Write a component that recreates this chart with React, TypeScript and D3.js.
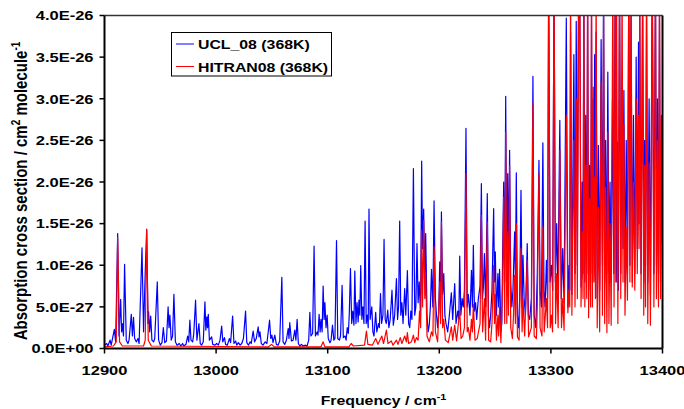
import React from "react";
import * as d3 from "d3";

// values in units of 1e-27 cm^2 molecule^-1
const UNIT = 1e-27;

const uclPoints: [number, number][] = [
  [12900, 0.4], [12902, 0.6], [12903, 0.3], [12905, 1.0], [12906, 0.4], [12908.8, 2.3], [12910, 0.8],
  [12911.8, 13.8], [12913, 1.5], [12914.5, 5.9], [12915.3, 2.0], [12916, 3.0], [12917, 1.5], [12918, 10.1],
  [12919.5, 1.0], [12921, 0.6], [12922, 1.0], [12924, 4.1], [12925, 1.5], [12926, 3.75], [12927, 1.2],
  [12928.5, 0.8], [12930, 1.2], [12931, 0.6], [12933.6, 12.1], [12935, 2.0], [12936.5, 9.2], [12937.8, 14.3],
  [12939, 3.0], [12939.5, 4.4], [12940.5, 2.0], [12941.4, 3.9], [12942.5, 1.0], [12944, 0.8], [12945, 1.2],
  [12947.3, 8.0], [12948.5, 1.0], [12950, 0.4], [12951.5, 0.7], [12952.7, 2.5], [12954, 0.7], [12955.5, 0.9],
  [12957, 5.0], [12957.8, 2.5], [12958.6, 4.0], [12959.8, 1.0], [12961, 1.5], [12962.2, 6.5], [12963.5, 0.8],
  [12965, 0.4], [12967, 0.6], [12968.5, 0.3], [12970, 0.6], [12971, 0.3], [12973, 0.5], [12974.5, 1.5],
  [12975.5, 0.8], [12976.5, 3.4], [12977.5, 1.0], [12979, 0.8], [12980, 1.8], [12981.6, 5.8], [12982.8, 1.0],
  [12984.6, 3.0], [12985.8, 0.6], [12987, 0.4], [12988.5, 0.8], [12990, 5.6], [12990.8, 2.2], [12991.7, 3.8],
  [12992.3, 2.5], [12993, 4.1], [12994, 1.0], [12996, 1.4], [12997, 0.5], [12999, 0.4], [13000.5, 0.6],
  [13002, 0.4], [13003.5, 1.0], [13005, 2.7], [13006, 0.8], [13007.5, 1.3], [13008.5, 0.5], [13010, 0.4],
  [13012, 1.2], [13013, 0.7], [13014.8, 3.9], [13016, 0.6], [13017.5, 0.9], [13018.5, 0.4], [13020, 0.7],
  [13021.5, 0.4], [13023, 0.6], [13024.5, 1.2], [13026.4, 4.5], [13027.5, 0.7], [13029, 0.4], [13030.5, 0.8],
  [13031.5, 0.6], [13033.2, 2.1], [13034.5, 0.8], [13036, 1.2], [13037.7, 2.6], [13038.5, 1.4], [13039.3, 2.0],
  [13040.5, 0.6], [13042, 0.4], [13044, 0.8], [13045.5, 0.6], [13047.9, 3.4], [13049, 1.2], [13050, 1.6],
  [13051, 0.7], [13052.6, 1.6], [13054, 0.5], [13055.5, 0.4], [13057, 0.9], [13058.9, 8.55], [13060, 0.8],
  [13061.5, 0.5], [13063, 1.0], [13064.6, 2.4], [13065.3, 1.2], [13066, 3.1], [13067.5, 0.9], [13069, 1.0],
  [13070.5, 2.2], [13071.5, 1.0], [13072.6, 3.5], [13073.7, 0.6], [13075, 0.3], [13076.5, 0.5], [13078, 0.3],
  [13080, 0.4], [13081.5, 0.3], [13083, 1.0], [13084, 4.35], [13085, 1.5], [13086.5, 1.8], [13087.8, 12.3],
  [13089, 1.5], [13090.5, 2.0], [13091.3, 1.6], [13092.3, 4.1], [13093.2, 2.0], [13094, 3.5], [13095, 2.0],
  [13095.9, 7.5], [13096.8, 3.5], [13097.5, 5.5], [13098.5, 2.5], [13099.5, 4.0], [13100.5, 1.2], [13102, 0.7],
  [13103, 1.0], [13104.3, 2.8], [13105.5, 1.0], [13106.5, 1.2], [13107.9, 12.95], [13109, 1.2], [13110.5, 1.0],
  [13111.5, 1.5], [13112.9, 7.6], [13114, 1.3], [13115.5, 1.5], [13116.5, 1.0], [13117.5, 2.5], [13118.5, 1.8],
  [13119.3, 4.0], [13120.4, 9.6], [13121.5, 3.0], [13122.5, 4.5], [13123.5, 2.8], [13124.3, 9.3], [13125.3, 3.0],
  [13126.3, 5.5], [13127.3, 3.2], [13128, 5.8], [13128.8, 4.0], [13129.6, 9.95], [13130.6, 3.5], [13131.5, 5.0],
  [13132.5, 3.0], [13133.5, 15.3], [13134.5, 3.0], [13135.5, 4.0], [13136.3, 2.5], [13137, 16.75], [13138, 3.5],
  [13139.5, 5.0], [13140.5, 2.0], [13141.5, 1.5], [13143, 4.35], [13144, 2.0], [13145.5, 3.0], [13146.3, 2.5],
  [13147.3, 6.6], [13148.3, 3.0], [13149.5, 4.0], [13150.5, 13.1], [13151.5, 3.5], [13152.5, 3.0], [13153.8, 4.6],
  [13154.8, 2.5], [13156, 3.5], [13157.6, 7.0], [13158.8, 2.8], [13160, 4.0], [13161.6, 8.4], [13162.6, 3.5],
  [13163.5, 5.0], [13164.5, 15.3], [13165.5, 4.0], [13166.5, 5.5], [13167.5, 3.0], [13169, 7.2], [13170, 4.0],
  [13171.4, 9.35], [13172.5, 3.0], [13173.5, 2.5], [13174.5, 4.5], [13175.5, 3.5], [13176.8, 21.6], [13178, 4.0],
  [13179, 5.0], [13180, 12.6], [13181, 5.5], [13182, 8.0], [13183.2, 4.0], [13184.2, 22.5], [13185, 12.0],
  [13186, 16.75], [13187, 8.0], [13187.8, 13.8], [13189, 4.0], [13190, 2.0], [13191, 2.8], [13192, 5.0],
  [13193, 9.5], [13194.2, 5.0], [13195.3, 17.75], [13196.5, 6.0], [13197.5, 4.0], [13198.5, 2.5], [13199.5, 4.5],
  [13200.4, 10.4], [13201.2, 6.0], [13201.9, 16.4], [13203, 6.5], [13204, 9.0], [13205, 4.0], [13206, 3.0],
  [13207.5, 2.0], [13209, 4.0], [13210.8, 6.7], [13212, 3.5], [13213.8, 7.8], [13215, 3.0], [13216.5, 4.5],
  [13217.5, 3.5], [13218.3, 11.1], [13219.3, 4.0], [13220.5, 6.0], [13221.5, 5.0], [13222.5, 7.0], [13223.9, 26.45],
  [13225, 5.0], [13226, 6.5], [13227.5, 4.0], [13228.8, 9.4], [13229.7, 5.0], [13230.5, 12.4], [13231.5, 4.5],
  [13232.5, 5.5], [13233.5, 3.5], [13235, 6.0], [13236.5, 7.5], [13237.7, 19.8], [13238.7, 6.0], [13239.5, 7.4],
  [13240.4, 11.4], [13241.5, 5.0], [13243, 18.6], [13244, 4.0], [13245, 2.5], [13246, 4.0], [13247.2, 7.0],
  [13248.7, 16.8], [13249.5, 8.0], [13250.2, 11.6], [13251.2, 4.0], [13252.5, 9.0], [13253.2, 5.0], [13254, 9.5],
  [13255.2, 2.0], [13256, 3.0], [13256.8, 12.0], [13257.7, 20.0], [13258.6, 8.0], [13259.5, 30.3], [13260.5, 8.0],
  [13261.3, 21.0], [13262, 10.0], [13263, 23.8], [13264, 8.0], [13265, 5.0], [13266, 7.0], [13267.5, 14.0],
  [13268.2, 8.0], [13269, 21.1], [13270, 4.0], [13271, 2.5], [13272, 6.0], [13273.2, 19.0], [13274.2, 5.0],
  [13275, 11.2], [13276, 6.0], [13277.2, 4.0], [13278.8, 12.6], [13279.8, 4.0], [13281, 3.5], [13282.5, 6.0],
  [13283.9, 32.7], [13285, 4.0], [13286.5, 2.5], [13287.8, 9.0], [13289.3, 22.6], [13290.3, 7.0], [13291.5, 5.0],
  [13292.8, 24.7], [13293.8, 7.0], [13294.8, 5.0], [13296, 10.6], [13297, 6.0],
  [13298, 45], [13299.3, 8], [13300.5, 10], [13301.6, 7], [13302.8, 45], [13304, 8], [13305.2, 15], [13306.3, 7],
  [13308, 27.4], [13309.3, 6], [13310.6, 12], [13311.8, 5.5], [13313.8, 39.7], [13315.2, 5], [13316.3, 10],
  [13316.9, 7], [13317.6, 38], [13318.8, 6.5], [13320.6, 35.3], [13321.6, 9], [13322.7, 39.3], [13323.7, 10],
  [13324.8, 45], [13325.9, 40], [13327, 7.4], [13328, 20], [13328.8, 9], [13329.5, 45], [13330.4, 8], [13331.2, 28],
  [13332.1, 9], [13332.9, 42], [13333.8, 7], [13334.7, 22], [13335.6, 9], [13336.4, 40], [13337.2, 8], [13338, 30],
  [13338.6, 12], [13339.2, 35.3], [13339.9, 10], [13340.5, 38], [13341.5, 6.1], [13342.5, 24.4], [13343.7, 7],
  [13345, 37.1], [13346.2, 10], [13347.2, 45], [13348.2, 8], [13349, 25], [13350, 9], [13351, 33.2], [13352, 10],
  [13353, 20], [13354, 8], [13355.2, 30], [13356.4, 9], [13357.6, 45], [13358.6, 8], [13359.6, 24.8], [13360.5, 7],
  [13361.5, 45], [13362.6, 9], [13363.8, 30], [13364.6, 12], [13365.4, 31], [13366.4, 8], [13367.5, 25],
  [13368.6, 9], [13369.8, 45], [13370.8, 10], [13371.8, 40], [13372.9, 8], [13374, 28], [13375.2, 9], [13376.4, 35],
  [13377.4, 12], [13378.5, 36.8], [13379, 15], [13379.6, 40], [13380.8, 9], [13382.2, 45], [13383.2, 8], [13384, 25],
  [13384.8, 10], [13385.7, 40], [13386.8, 8], [13388, 30], [13389.2, 6.4], [13390.8, 45], [13392.3, 9],
  [13393.7, 45], [13394.6, 10], [13395.5, 30], [13396.4, 9], [13397.3, 40], [13398.2, 8], [13399, 25], [13400, 12.6],
];

const hitranPoints: [number, number][] = [
  [12900, 0.2], [12908, 0.3], [12910.5, 0.8], [12911.8, 13.3], [12913.5, 0.8], [12916, 0.3], [12935, 0.3],
  [12936.5, 1.0], [12937.8, 14.3], [12939.2, 1.0], [12942, 0.3], [13047, 0.2], [13049.7, 0.5], [13052, 0.2],
  [13094, 0.2], [13095.9, 0.8], [13097.5, 0.2], [13119, 0.2], [13121, 0.6], [13123, 0.3], [13133, 0.4],
  [13134.7, 2.1], [13136, 0.5], [13140, 0.4], [13143, 1.2], [13145, 0.5], [13148.5, 1.5], [13150, 0.6],
  [13152.6, 2.2], [13154, 0.6], [13157, 0.9], [13158.5, 0.4], [13161.6, 1.0], [13163, 0.5], [13165, 1.3],
  [13166.5, 0.6], [13169, 1.5], [13170.5, 0.8], [13171.4, 1.9], [13172.5, 0.6], [13175, 0.8], [13176.8, 1.6],
  [13178, 0.7], [13179.5, 1.3], [13181, 1.0], [13182.3, 4.5], [13183.3, 2.5], [13184, 14.2], [13185, 5.0],
  [13186, 15.4], [13187, 6.0], [13187.8, 9.0], [13189, 1.5], [13191, 0.8], [13193, 2.0], [13194.3, 1.5],
  [13195.3, 12.2], [13196.5, 2.0], [13198.5, 0.8], [13200.4, 8.0], [13201.2, 3.0], [13201.9, 15.2], [13203, 2.5],
  [13204, 3.5], [13205.5, 1.0], [13208, 0.7], [13210.8, 2.6], [13212, 1.0], [13213.8, 2.8], [13215.5, 0.9],
  [13218.3, 4.6], [13219.5, 1.2], [13221, 1.5], [13222.5, 2.5], [13223.9, 21.0], [13225, 2.0], [13226, 2.5],
  [13227.5, 1.0], [13228.8, 3.5], [13229.7, 2.0], [13230.5, 5.3], [13232, 1.0], [13234, 1.2], [13236.5, 3.0],
  [13237.7, 16.0], [13238.8, 2.0], [13240.4, 6.0], [13241.5, 1.0], [13243, 15.2], [13244.2, 1.0], [13246, 0.8],
  [13247.2, 3.0], [13248.7, 10.0], [13249.5, 3.0], [13250.2, 6.5], [13251.2, 1.0], [13252.5, 4.0], [13253.2, 1.5],
  [13254, 5.0], [13255.2, 0.7], [13256.8, 8.0], [13257.7, 18.2], [13258.6, 3.0], [13259.5, 26.0], [13260.5, 3.0],
  [13261.3, 14.0], [13262, 4.0], [13263, 21.9], [13264, 2.5], [13265.5, 1.2], [13266.5, 4.0], [13267.5, 8.8],
  [13268.2, 3.0], [13269, 15.0], [13270, 1.4], [13271.5, 1.0], [13273.2, 12.0], [13274.2, 2.0], [13275, 6.0],
  [13276.5, 1.5], [13278.8, 10.6], [13280, 1.4], [13282.5, 2.5], [13283.9, 29.45], [13285, 1.5], [13287, 1.2],
  [13287.8, 5.0], [13289.3, 21.0], [13290.3, 2.5], [13292, 1.5], [13292.8, 14.6], [13294, 2.0], [13296, 6.0],
  [13297, 2.5],
  [13298, 45], [13299.4, 2.5], [13300.5, 4], [13301.5, 2], [13302.8, 45], [13304.2, 3], [13305.2, 9], [13306.5, 2.5],
  [13308, 23.8], [13309.5, 2.5], [13310.6, 6], [13311.8, 2.2], [13313.8, 28], [13315.2, 4.3], [13316.3, 7],
  [13316.9, 5], [13317.6, 45], [13318.8, 4], [13320.6, 25], [13321.6, 5], [13322.7, 30], [13323.7, 6], [13324.8, 40],
  [13325.9, 45], [13327, 5], [13328, 14], [13328.8, 6], [13329.5, 45], [13330.4, 5], [13331.2, 22], [13332.1, 6],
  [13332.9, 45], [13333.8, 3.7], [13334.7, 18], [13335.6, 5], [13336.4, 45], [13337.2, 5], [13338, 31.4],
  [13338.6, 8], [13339.2, 20.6], [13339.9, 6], [13340.5, 45], [13341.5, 2.5], [13342.5, 17], [13343.7, 2.0],
  [13345, 32], [13346.2, 4], [13347.2, 40], [13348.2, 3], [13349, 19.4], [13350.2, 1.9], [13351, 26], [13352, 3],
  [13353, 15], [13354, 2.8], [13355.5, 45], [13356.6, 5], [13357.6, 45], [13358.2, 8], [13358.8, 45], [13360, 3],
  [13361.5, 45], [13362.6, 6], [13363.8, 45], [13364.6, 8], [13365.4, 27], [13366.4, 4], [13367.5, 14.6],
  [13368.6, 5.8], [13369.8, 45], [13370.8, 8], [13371.8, 45], [13372.9, 7.4], [13374, 20], [13375.2, 7],
  [13376.4, 30], [13377.4, 9], [13378.5, 28], [13379, 12], [13379.6, 45], [13380.8, 6], [13382.2, 40], [13383.2, 4],
  [13384, 22], [13384.8, 5], [13385.7, 45], [13386.8, 3], [13388, 22.3], [13389.2, 2.8], [13390.8, 45], [13392.3, 5],
  [13393.7, 45], [13394.6, 6], [13395.5, 25], [13396.4, 5], [13397.3, 45], [13398.2, 6], [13399, 28], [13400, 19.3],
];

const xTicks = [12900, 13000, 13100, 13200, 13300, 13400];
const yTicks = [0, 5e-27, 1e-26, 1.5e-26, 2e-26, 2.5e-26, 3e-26, 3.5e-26, 4e-26];
const yTickLabels = ["0.0E+00", "5.0E-27", "1.0E-26", "1.5E-26", "2.0E-26", "2.5E-26", "3.0E-26", "3.5E-26", "4.0E-26"];
const seriesNames = ["UCL_08 (368K)", "HITRAN08 (368K)"];
const seriesColors = ["#0000FF", "#FF0000"];

const W = 684, H = 409;
const L = 104.5, R = 662.5, T = 15.5, B = 348.5;
const FONT = "Liberation Sans, Arial, sans-serif";
const SX = 1.25; // horizontal stretch of text as in reference

export default function App() {
  const x = d3.scaleLinear().domain([12900, 13400]).range([L, R]);
  const y = d3.scaleLinear().domain([0, 4e-26]).range([B, T]);
  const line = d3.line<[number, number]>().x(d => x(d[0])).y(d => y(d[1] * UNIT));
  const series = [uclPoints, hitranPoints];

  return (
    <svg width={W} height={H} style={{ position: "absolute", left: 0, top: 0, background: "#fff" }}>
      <defs>
        <clipPath id="plotClip">
          <rect x={L} y={T} width={R - L} height={B - T} />
        </clipPath>
      </defs>
      <rect x={0} y={0} width={W} height={H} fill="#fff" />
      <g clipPath="url(#plotClip)">
        {series.map((s, i) => (
          <path key={i} d={line(s) || ""} fill="none" stroke={seriesColors[i]} strokeWidth={1.2} strokeLinejoin="round" />
        ))}
      </g>
      {/* frame */}
      <line x1={L} y1={T} x2={R} y2={T} stroke="#333" strokeWidth={1.5} />
      <line x1={R} y1={T} x2={R} y2={B} stroke="#000" strokeWidth={2} />
      <line x1={L} y1={T} x2={L} y2={B} stroke="#000" strokeWidth={2} />
      <line x1={L} y1={B} x2={R} y2={B} stroke="#000" strokeWidth={2} />
      {/* y ticks */}
      {yTicks.map((t, i) => (
        <g key={i}>
          <line x1={L - 5} x2={L} y1={y(t)} y2={y(t)} stroke="#000" strokeWidth={1.5} />
          <text transform={`translate(${L - 11},${y(t) + 4.8}) scale(${SX},1)`} textAnchor="end"
            fontFamily={FONT} fontWeight="bold" fontSize={13.2} fill="#000">{yTickLabels[i]}</text>
        </g>
      ))}
      {/* x ticks */}
      {xTicks.map((t, i) => (
        <g key={i}>
          <line x1={x(t)} x2={x(t)} y1={B} y2={B + 5} stroke="#000" strokeWidth={1.5} />
          <text transform={`translate(${x(t)},${B + 26}) scale(${SX},1)`} textAnchor="middle"
            fontFamily={FONT} fontWeight="bold" fontSize={13.2} fill="#000">{t}</text>
        </g>
      ))}
      {/* x title */}
      <text transform={`translate(${(L + R) / 2},${405}) scale(${SX - 0.05},1)`} textAnchor="middle"
        fontFamily={FONT} fontWeight="bold" fontSize={13.2} fill="#000">
        Frequency / cm<tspan dy={-5} fontSize={9}>-1</tspan>
      </text>
      {/* y title */}
      <text transform={`translate(${26.5},${191}) rotate(-90) scale(1,${SX})`} textAnchor="middle"
        fontFamily={FONT} fontWeight="bold" fontSize={15} fill="#000">
        Absorption cross section / cm<tspan dy={-5.5} fontSize={10}>2</tspan><tspan dy={5.5}> molecule</tspan><tspan dy={-5.5} fontSize={10}>-1</tspan>
      </text>
      {/* legend */}
      <rect x={171.5} y={32.5} width={160} height={43.5} fill="#fff" stroke="#000" strokeWidth={1} />
      {seriesNames.map((n, i) => (
        <g key={i}>
          <line x1={176} x2={194} y1={44 + i * 22.5} y2={44 + i * 22.5} stroke={seriesColors[i]} strokeWidth={1} />
          <text transform={`translate(${198},${49 + i * 22.5}) scale(${SX - 0.05},1)`} fontFamily={FONT} fontWeight="bold"
            fontSize={13.2} fill="#000">{n}</text>
        </g>
      ))}
    </svg>
  );
}
